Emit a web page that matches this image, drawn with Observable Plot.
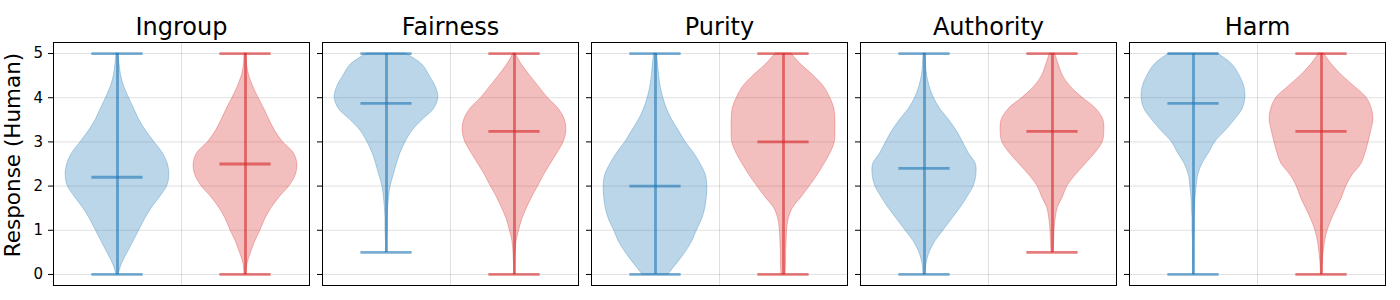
<!DOCTYPE html>
<html>
<head>
<meta charset="utf-8">
<script src="https://cdn.jsdelivr.net/npm/d3@7"></script>
<script src="https://cdn.jsdelivr.net/npm/@observablehq/plot@0.6"></script>
<style>
  html, body { margin: 0; padding: 0; background: #fff; }
  #chart svg { font-family: "DejaVu Sans", sans-serif; }
  #chart .ytick-label text { font-size: 15px; }
</style>
</head>
<body>
<div id="chart"></div>
<script>
// ---- data ----
const categories = ["Ingroup", "Fairness", "Purity", "Authority", "Harm"];
const seriesNames = ["Group A", "Group B"];
const seriesColors = ["#1f77b4", "#d62728"];
const yTicks = [0, 1, 2, 3, 4, 5];
const yTickLabels = ["0", "1", "2", "3", "4", "5"];
const yLabel = "Response (Human)";

// density profile grid (response values)
const yGrid = [0, 0.25, 0.5, 0.75, 1, 1.25, 1.5, 1.75, 2, 2.25, 2.5, 2.75, 3, 3.25, 3.5, 3.75, 4, 4.25, 4.5, 4.75, 5];

// relative violin half-widths along yGrid (null = outside data range)
const ingroupA   = [0.02, 0.09, 0.2, 0.31, 0.42, 0.53, 0.66, 0.82, 0.96, 1.0, 0.97, 0.87, 0.71, 0.55, 0.42, 0.32, 0.22, 0.13, 0.07, 0.04, 0.02];
const ingroupB   = [0.02, 0.04, 0.11, 0.19, 0.29, 0.38, 0.5, 0.66, 0.85, 0.97, 1.0, 0.93, 0.72, 0.57, 0.46, 0.36, 0.25, 0.15, 0.07, 0.03, 0.02];
const fairnessA  = [null, null, 0.01, 0.01, 0.02, 0.02, 0.03, 0.05, 0.08, 0.14, 0.2, 0.27, 0.37, 0.5, 0.7, 0.92, 1.0, 0.95, 0.83, 0.69, 0.37];
const fairnessB  = [0.01, 0.01, 0.02, 0.04, 0.09, 0.15, 0.24, 0.34, 0.46, 0.57, 0.7, 0.83, 0.95, 1.0, 0.97, 0.85, 0.64, 0.47, 0.3, 0.14, 0.02];
const purityA    = [0.25, 0.42, 0.58, 0.71, 0.8, 0.9, 0.96, 0.99, 1.0, 0.97, 0.87, 0.74, 0.58, 0.45, 0.32, 0.22, 0.15, 0.1, 0.07, 0.05, 0.03];
const purityB    = [0.04, 0.05, 0.05, 0.06, 0.07, 0.1, 0.18, 0.35, 0.51, 0.66, 0.79, 0.91, 0.99, 1.0, 1.0, 0.98, 0.9, 0.78, 0.58, 0.34, 0.15];
const authorityA = [0.02, 0.04, 0.1, 0.21, 0.37, 0.53, 0.69, 0.83, 0.95, 1.0, 0.99, 0.85, 0.74, 0.62, 0.47, 0.3, 0.18, 0.1, 0.05, 0.03, 0.02];
const authorityB = [null, null, 0.02, 0.03, 0.04, 0.06, 0.1, 0.2, 0.29, 0.45, 0.64, 0.83, 0.97, 1.0, 0.98, 0.84, 0.58, 0.35, 0.2, 0.12, 0.05];
const harmA      = [0.01, 0.01, 0.01, 0.01, 0.02, 0.02, 0.03, 0.04, 0.06, 0.09, 0.17, 0.3, 0.42, 0.62, 0.8, 0.95, 1.0, 0.98, 0.89, 0.75, 0.47];
const harmB      = [0.01, 0.02, 0.04, 0.07, 0.12, 0.2, 0.3, 0.4, 0.48, 0.6, 0.77, 0.85, 0.91, 0.96, 1.0, 0.97, 0.87, 0.64, 0.4, 0.2, 0.05];

const profiles = [
  [ingroupA, ingroupB],
  [fairnessA, fairnessB],
  [purityA, purityB],
  [authorityA, authorityB],
  [harmA, harmB]
];

// summary statistics per category
const minA    = [0, 0.5, 0, 0, 0];
const minB    = [0, 0, 0, 0.5, 0];
const maxA    = [5, 5, 5, 5, 5];
const maxB    = [5, 5, 5, 5, 5];
const medianA = [2.2, 3.87, 2.0, 2.4, 3.87];
const medianB = [2.5, 3.24, 3.0, 3.24, 3.24];

// ---- derived tables ----
const centers = {"Group A": 0.5, "Group B": 1.5};
const maxHalf = 0.405;   // max violin half-width (x units)
const capHalf = 0.2;     // cap half-length (x units)

const violinRows = [];
categories.forEach((cat, i) => {
  seriesNames.forEach((s, j) => {
    profiles[i][j].forEach((w, k) => {
      if (w != null) violinRows.push({cat, series: s, y: yGrid[k], w});
    });
  });
});

const statRows = [];
const capRows = [];
categories.forEach((cat, i) => {
  const mins = [minA[i], minB[i]];
  const maxs = [maxA[i], maxB[i]];
  const meds = [medianA[i], medianB[i]];
  seriesNames.forEach((s, j) => {
    statRows.push({cat, series: s, lo: mins[j], hi: maxs[j]});
    capRows.push({cat, series: s, v: mins[j]});
    capRows.push({cat, series: s, v: maxs[j]});
    capRows.push({cat, series: s, v: meds[j]});
  });
});

const tickLabelRows = yTicks.map((t, i) => ({cat: categories[0], y: t, label: yTickLabels[i]}));

const chart = Plot.plot({
  width: 1400,
  height: 300,
  marginLeft: 53,
  marginRight: 14,
  marginTop: 42,
  marginBottom: 15,
  style: {fontFamily: "DejaVu Sans, sans-serif", background: "#fff", color: "#000"},
  fx: {domain: categories, padding: 0.048, axis: null},
  x: {domain: [0, 2], axis: null},
  y: {domain: [-0.25, 5.25], axis: null},
  color: {domain: seriesNames, range: seriesColors},
  marks: [
    Plot.ruleY(yTicks, {y: d => d, stroke: "#000", strokeOpacity: 0.12, strokeWidth: 1}),
    Plot.ruleX([1], {x: d => d, stroke: "#000", strokeOpacity: 0.12, strokeWidth: 1}),
    Plot.areaX(violinRows, {
      fx: "cat", y: "y", z: "series",
      x1: d => centers[d.series] - d.w * maxHalf,
      x2: d => centers[d.series] + d.w * maxHalf,
      fill: "series", fillOpacity: 0.3,
      stroke: "series", strokeOpacity: 0.3, strokeWidth: 1,
      curve: "catmull-rom"
    }),
    Plot.ruleX(statRows, {
      fx: "cat", x: d => centers[d.series], y1: "lo", y2: "hi",
      stroke: "series", strokeOpacity: 0.6, strokeWidth: 2.8
    }),
    Plot.ruleY(capRows, {
      fx: "cat", y: "v",
      x1: d => centers[d.series] - capHalf,
      x2: d => centers[d.series] + capHalf,
      stroke: "series", strokeOpacity: 0.6, strokeWidth: 2.8
    }),
    Plot.frame({stroke: "#000", strokeWidth: 1}),
    Plot.axisY({ticks: yTicks, tickSize: 5, label: null, fill: "none", stroke: "#000", facetAnchor: null}),
    Plot.text(tickLabelRows, {
      fx: "cat", y: "y", text: "label", frameAnchor: "left", dx: -10.5,
      textAnchor: "end", fontSize: "15px", fill: "#000", className: "ytick-label"
    }),
    Plot.text([yLabel], {
      fx: () => categories[0], text: d => d, frameAnchor: "left", dx: -40, dy: -9,
      rotate: -90, fontSize: 21.5, textAnchor: "middle", fill: "#000"
    }),
    Plot.axisFx({anchor: "top", label: null, tickSize: 0, tickPadding: 8, fontSize: 24})
  ]
});

document.getElementById("chart").appendChild(chart);
</script>
</body>
</html>
